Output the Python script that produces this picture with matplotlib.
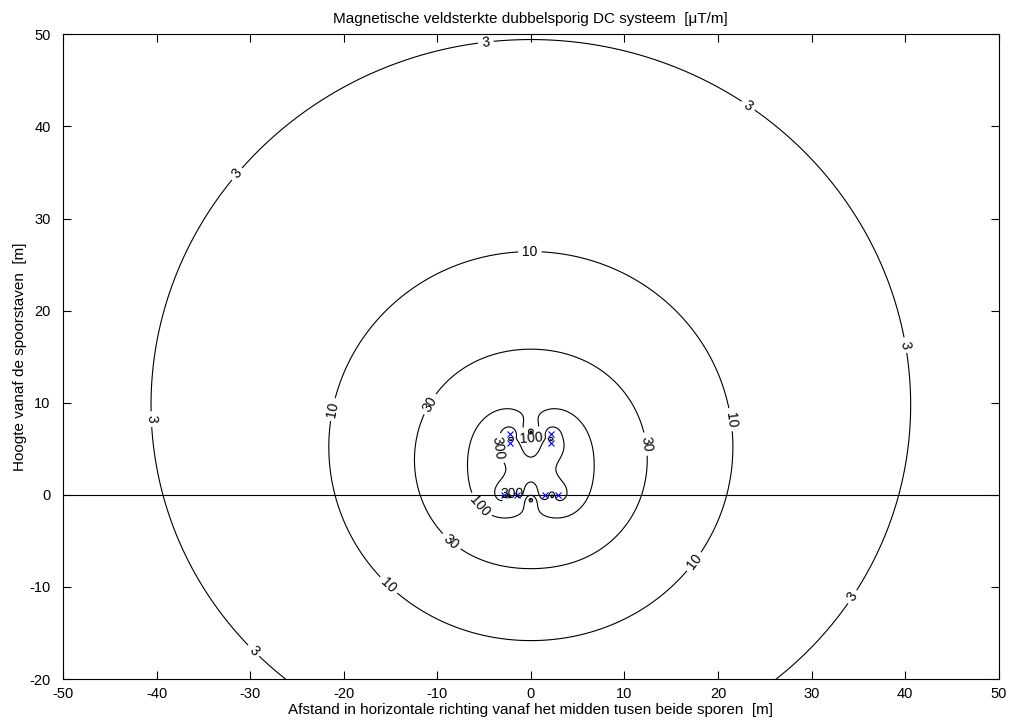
import numpy as np
import matplotlib
matplotlib.use('Agg')
import matplotlib.pyplot as plt

plt.rcParams['font.family'] = ['Liberation Sans', 'DejaVu Sans']
plt.rcParams['font.size'] = 10
plt.rcParams['axes.unicode_minus'] = False

# geleiders: bovenleiding (x, y) en stroom [A], spoorstaven retour
wire_x = [-2.2, -2.2, 2.2, 2.2]
wire_y = [6.6, 5.6, 6.6, 5.6]
wire_I = [945.0, 945.0, 945.0, 945.0]
rail_x = [-2.92, -1.48, 1.48, 2.92]
rail_y = [0.0, 0.0, 0.0, 0.0]
rail_I = [-892.0, -892.0, -892.0, -892.0]

levels = [3, 10, 30, 100, 300]
xticks = list(range(-50, 51, 10))
yticks = list(range(-20, 51, 10))

# label posities per niveau (data coords)
label_pos = {
    3: [(-4.8, 49.0), (-31.6, 35.0), (-41.0, 8.2), (-30.0, -17.3),
        (22.2, 40.7), (40.3, 16.3), (34.7, -11.3)],
    10: [(-0.1, 26.6), (-21.4, 9.3), (-16.6, -11.3), (19.2, -8.6), (21.6, 8.2)],
    30: [(-10.7, 9.8), (-8.6, -5.2), (12.2, 5.5)],
    100: [(0.0, 6.8), (-6.5, -2.1)],
    300: [(-3.8, 5.0), (-2.2, 0.0)],
}

cx = np.array(wire_x + rail_x)
cy = np.array(wire_y + rail_y)
ci = np.array(wire_I + rail_I)

x = np.linspace(-50.03, 50.03, 801)
y = np.linspace(-20.03, 50.03, 561)
X, Y = np.meshgrid(x, y)
Bx = np.zeros_like(X)
By = np.zeros_like(X)
for xi, yi, I in zip(cx, cy, ci):
    dx = X - xi
    dy = Y - yi
    r2 = dx**2 + dy**2
    k = 0.2 * I / r2  # uT, mu0/(2 pi) * I / r
    Bx += -k * dy
    By += k * dx
B = np.sqrt(Bx**2 + By**2)

fig = plt.figure(figsize=(10.12, 7.22), dpi=100)
ax = fig.add_axes([0.0623, 0.0595, 0.9245, 0.893])
for lev in levels:
    cs = ax.contour(X, Y, B, levels=[lev], colors='k', linewidths=0.8)
    ax.clabel(cs, fmt='%g', fontsize=10, inline=True,
              inline_spacing=4, manual=label_pos[lev])
ax.axhline(0, color='k', linewidth=0.8)
ax.plot(cx, cy, 'x', color='blue', markersize=4, markeredgewidth=0.8)

ax.set_xlim(-50, 50)
ax.set_ylim(-20, 50)
ax.set_xticks(xticks)
ax.set_yticks(yticks)
ax.tick_params(direction='in', top=True, right=True, length=6, labelsize=10.5)
ax.tick_params(axis='x', pad=6)
ax.tick_params(axis='y', pad=9)
ax.set_title('Magnetische veldsterkte dubbelsporig DC systeem  [\u03bcT/m]', fontsize=11, pad=8)
ax.set_xlabel('Afstand in horizontale richting vanaf het midden tusen beide sporen  [m]', fontsize=11, labelpad=1)
ax.set_ylabel('Hoogte vanaf de spoorstaven  [m]', fontsize=11, labelpad=2)

fig.savefig('out.png', dpi=100)
